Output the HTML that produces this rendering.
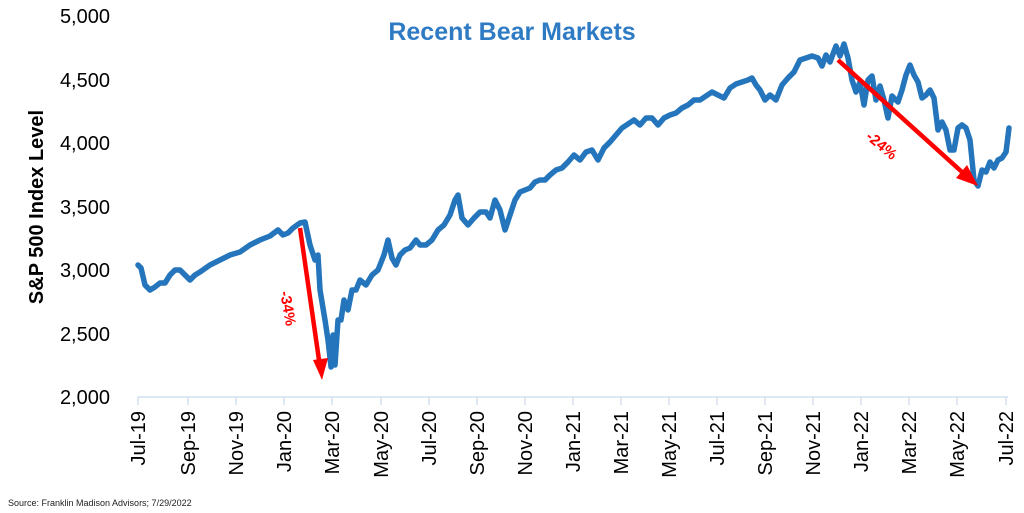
<!DOCTYPE html>
<html><head><meta charset="utf-8"><style>
html,body{margin:0;padding:0;background:#fff;}
svg{display:block;font-family:"Liberation Sans",sans-serif;}
</style></head><body>
<svg width="1024" height="513" viewBox="0 0 1024 513" xmlns="http://www.w3.org/2000/svg">
<text x="512" y="40" text-anchor="middle" font-size="25" font-weight="bold" fill="#2e7bc4">Recent Bear Markets</text>
<text transform="translate(43,207) rotate(-90)" text-anchor="middle" font-size="20" font-weight="bold" fill="#000">S&amp;P 500 Index Level</text>
<g font-size="20" fill="#000" text-anchor="end">
<text x="110" y="404">2,000</text>
<text x="110" y="341">2,500</text>
<text x="110" y="277">3,000</text>
<text x="110" y="214">3,500</text>
<text x="110" y="150">4,000</text>
<text x="110" y="87">4,500</text>
<text x="110" y="23">5,000</text>
</g>
<g stroke="#c9d9ec" stroke-width="1.2">
<line x1="138" y1="397" x2="1008" y2="397"/>
<line x1="138" y1="397" x2="138" y2="405"/><line x1="188" y1="397" x2="188" y2="405"/><line x1="236" y1="397" x2="236" y2="405"/><line x1="284" y1="397" x2="284" y2="405"/><line x1="332" y1="397" x2="332" y2="405"/><line x1="381" y1="397" x2="381" y2="405"/><line x1="429" y1="397" x2="429" y2="405"/><line x1="477" y1="397" x2="477" y2="405"/><line x1="525" y1="397" x2="525" y2="405"/><line x1="573" y1="397" x2="573" y2="405"/><line x1="621" y1="397" x2="621" y2="405"/><line x1="669" y1="397" x2="669" y2="405"/><line x1="717" y1="397" x2="717" y2="405"/><line x1="765" y1="397" x2="765" y2="405"/><line x1="813" y1="397" x2="813" y2="405"/><line x1="861" y1="397" x2="861" y2="405"/><line x1="909" y1="397" x2="909" y2="405"/><line x1="957" y1="397" x2="957" y2="405"/><line x1="1006" y1="397" x2="1006" y2="405"/>
</g>
<g font-size="20" fill="#000" text-anchor="end">
<text transform="translate(145,411) rotate(-90)">Jul-19</text>
<text transform="translate(195,411) rotate(-90)">Sep-19</text>
<text transform="translate(243,411) rotate(-90)">Nov-19</text>
<text transform="translate(291,411) rotate(-90)">Jan-20</text>
<text transform="translate(339,411) rotate(-90)">Mar-20</text>
<text transform="translate(388,411) rotate(-90)">May-20</text>
<text transform="translate(436,411) rotate(-90)">Jul-20</text>
<text transform="translate(484,411) rotate(-90)">Sep-20</text>
<text transform="translate(532,411) rotate(-90)">Nov-20</text>
<text transform="translate(580,411) rotate(-90)">Jan-21</text>
<text transform="translate(628,411) rotate(-90)">Mar-21</text>
<text transform="translate(676,411) rotate(-90)">May-21</text>
<text transform="translate(724,411) rotate(-90)">Jul-21</text>
<text transform="translate(772,411) rotate(-90)">Sep-21</text>
<text transform="translate(820,411) rotate(-90)">Nov-21</text>
<text transform="translate(868,411) rotate(-90)">Jan-22</text>
<text transform="translate(916,411) rotate(-90)">Mar-22</text>
<text transform="translate(964,411) rotate(-90)">May-22</text>
<text transform="translate(1013,411) rotate(-90)">Jul-22</text>
</g>
<text x="8" y="506" font-size="9" fill="#222">Source: Franklin Madison Advisors; 7/29/2022</text>
<polyline fill="none" stroke="#2475bb" stroke-width="5.5" stroke-linejoin="round" stroke-linecap="round" points="138,265 141,268 145,285 150,290 155,287 160,283 165,283 170,275 175,270 180,270 185,275 190,280 195,275 200,272 210,265 220,260 230,255 240,252 250,245 260,240 270,236 278,230 283,235 288,233 293,228 300,223 305,222 310,245 315,260 318,255 320,290 325,320 328,340 331,367 333,335 335,365 338,320 341,320 344,300 348,310 352,290 356,290 360,280 366,285 372,275 378,270 384,255 388,240 392,258 396,265 400,255 405,250 410,248 416,240 420,245 426,245 432,240 438,230 444,225 450,215 455,200 458,195 462,218 468,225 474,218 480,212 486,212 490,218 495,200 500,210 505,230 510,215 515,200 520,192 525,190 530,188 535,182 540,180 545,180 550,175 556,170 562,168 568,162 574,155 580,160 586,152 592,150 598,160 604,148 610,142 616,135 622,128 628,124 634,120 640,125 646,118 652,118 658,125 664,118 670,115 676,113 682,108 688,105 694,100 700,100 706,96 712,92 718,95 724,98 730,88 736,84 742,82 748,80 752,78 756,85 760,90 765,100 770,95 776,100 782,85 788,78 794,72 800,60 806,58 812,56 818,58 822,66 826,55 830,62 836,46 840,56 844,44 848,58 852,80 856,92 860,82 864,105 868,80 872,76 876,100 880,86 884,100 888,118 892,96 898,102 902,90 906,75 910,65 914,75 918,82 922,98 926,95 930,90 934,98 938,130 942,122 946,130 950,150 954,150 958,128 962,125 966,128 970,140 974,180 978,186 982,170 986,172 990,162 994,168 998,160 1002,158 1006,152 1009,128"/>
<g fill="#f00" stroke="#f00">
<line x1="300" y1="228" x2="319" y2="360" stroke-width="4.5"/>
<polygon points="313,360 328,358 322,380" stroke="none"/>
<line x1="838" y1="60" x2="962" y2="172" stroke-width="4.5"/>
<polygon points="956,178 967,165 978,186" stroke="none"/>
</g>
<text transform="translate(280,292) rotate(80)" font-size="15" font-weight="bold" fill="#f00">-34%</text>
<text transform="translate(865,138) rotate(40)" font-size="15" font-weight="bold" fill="#f00">-24%</text>
</svg>
</body></html>
